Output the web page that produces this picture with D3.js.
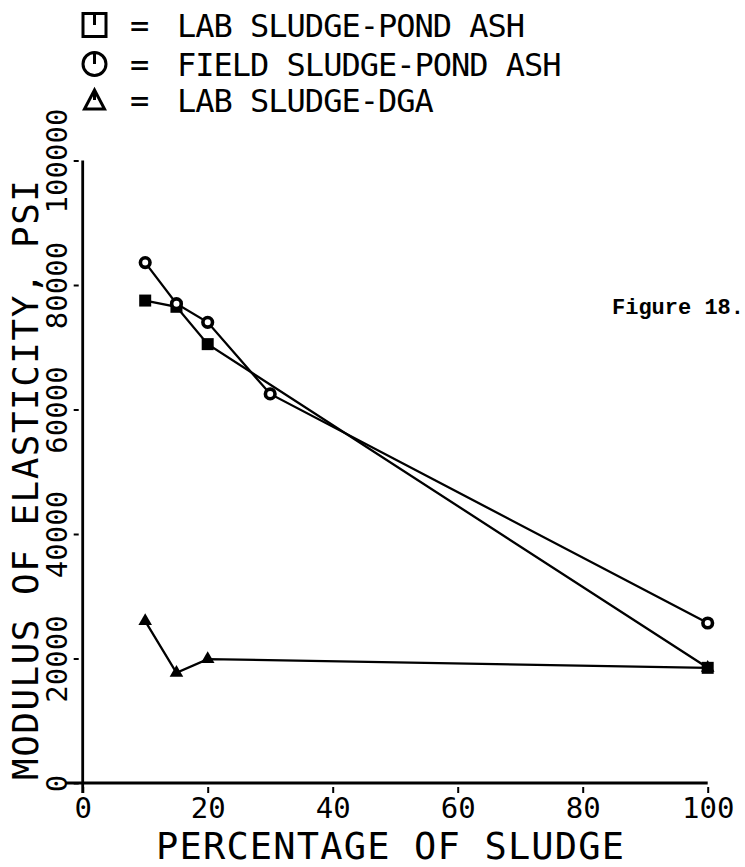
<!DOCTYPE html>
<html>
<body style="margin:0;background:#fff;">
<style>
body {
  font: 12px sans-serif;
}
.plot text {
  font-family: "DejaVu Sans Mono", monospace;
  fill: #000;
}
</style>
<div class="container"></div>
<script src="https://d3js.org/d3.v7.min.js"></script>

<script>

      // values
      var labPondX = [10, 15, 20, 100],
          labPondY = [77500, 76500, 70500, 18500];

      var fieldPondX = [10, 15, 20, 30, 100],
          fieldPondY = [83600, 77000, 74000, 62500, 25700];

      var labDgaX = [10, 15, 20, 100],
          labDgaY = [26000, 17700, 19900, 18500];

      var xTicks = [0, 20, 40, 60, 80, 100],
          yTicks = [0, 20000, 40000, 60000, 80000, 100000];

      var legendNames = ["LAB SLUDGE-POND ASH", "FIELD SLUDGE-POND ASH", "LAB SLUDGE-DGA"];

      var width = 745,
          height = 867;

      var svg = d3.select(".container")
          .append("svg")
          .attr("class", "plot")
          .attr("width", width)
          .attr("height", height);

      var x = d3.scaleLinear().domain([0, 100]).range([82.7, 707.7]);
      var y = d3.scaleLinear().domain([0, 100000]).range([783, 160.5]);

      // axes lines
      svg.append("line")
          .attr("x1", 66).attr("x2", x(100))
          .attr("y1", y(0)).attr("y2", y(0))
          .attr("stroke", "#000").attr("stroke-width", 2.8);

      svg.append("line")
          .attr("x1", x(0)).attr("x2", x(0))
          .attr("y1", y(100000)).attr("y2", y(0) + 10)
          .attr("stroke", "#000").attr("stroke-width", 2.8);

      var xAxis = svg.append("g")
          .attr("transform", "translate(0," + y(0) + ")")
          .call(d3.axisBottom(x).tickValues(xTicks).tickSize(10).tickPadding(5).tickFormat(d3.format("d")));

      xAxis.select(".domain").remove();
      xAxis.selectAll(".tick line").attr("y1", 4).attr("stroke-width", 2);
      xAxis.selectAll(".tick text")
          .attr("font-size", 29)
          .attr("font-family", "DejaVu Sans Mono")
          .attr("dy", "0.7em");

      var yAxis = svg.append("g")
          .attr("transform", "translate(" + x(0) + ",0)")
          .call(d3.axisLeft(y).tickValues(yTicks).tickSize(9).tickFormat(d3.format("d")));

      yAxis.select(".domain").remove();
      yAxis.selectAll(".tick line").attr("x1", -4).attr("stroke-width", 2);
      yAxis.selectAll(".tick text")
          .attr("font-size", 29)
          .attr("font-family", "DejaVu Sans Mono")
          .attr("text-anchor", "middle")
          .attr("x", null)
          .attr("dy", null)
          .attr("transform", "translate(-16,0) rotate(-90)");

      // axis titles
      svg.append("text")
          .attr("x", 390)
          .attr("y", 859)
          .attr("text-anchor", "middle")
          .attr("font-size", 37)
          .attr("textLength", 468)
          .attr("lengthAdjust", "spacing")
          .text("PERCENTAGE OF SLUDGE");

      svg.append("text")
          .attr("transform", "translate(38,480) rotate(-90)")
          .attr("text-anchor", "middle")
          .attr("font-size", 36)
          .attr("textLength", 600)
          .attr("lengthAdjust", "spacing")
          .text("MODULUS OF ELASTICITY, PSI");

      svg.append("text")
          .attr("x", 612)
          .attr("y", 314)
          .style("font-family", "'Liberation Mono', monospace")
          .style("font-weight", "bold")
          .attr("font-size", 22)
          .text("Figure 18.");

      // series lines
      var line = d3.line()
          .x(function(d) { return x(d[0]); })
          .y(function(d) { return y(d[1]); });

      function pairs(xs, ys) {
        return xs.map(function(v, i) { return [v, ys[i]]; });
      }

      var series = [pairs(labPondX, labPondY), pairs(fieldPondX, fieldPondY), pairs(labDgaX, labDgaY)];

      svg.selectAll(".series")
          .data(series)
          .enter()
          .append("path")
          .attr("class", "series")
          .attr("d", line)
          .attr("fill", "none")
          .attr("stroke", "#000")
          .attr("stroke-width", 2.3);

      // markers
      svg.selectAll(".tri")
          .data(series[2])
          .enter()
          .append("path")
          .attr("class", "tri")
          .attr("d", d3.symbol().type(d3.symbolTriangle).size(80))
          .attr("transform", function(d) { return "translate(" + x(d[0]) + "," + y(d[1]) + ")"; })
          .attr("fill", "#000");

      svg.selectAll(".sq")
          .data(series[0])
          .enter()
          .append("rect")
          .attr("class", "sq")
          .attr("x", function(d) { return x(d[0]) - 6; })
          .attr("y", function(d) { return y(d[1]) - 6; })
          .attr("width", 12)
          .attr("height", 12)
          .attr("fill", "#000");

      svg.selectAll(".circ")
          .data(series[1])
          .enter()
          .append("circle")
          .attr("class", "circ")
          .attr("cx", function(d) { return x(d[0]); })
          .attr("cy", function(d) { return y(d[1]); })
          .attr("r", 4.8)
          .attr("fill", "#fff")
          .attr("stroke", "#000")
          .attr("stroke-width", 3.6);

      // legend
      var legendY = [37, 76, 112];

      var legend = svg.selectAll(".legend")
          .data(legendNames)
          .enter()
          .append("g")
          .attr("class", "legend")
          .attr("transform", function(d, i) { return "translate(0," + legendY[i] + ")"; });

      legend.append("text")
          .attr("x", 130)
          .attr("font-size", 32)
          .text("=");

      legend.append("text")
          .attr("x", 177)
          .attr("font-size", 32)
          .attr("letter-spacing", -1)
          .text(function(d) { return d; });

      var sym = legend.append("g")
          .attr("transform", "translate(94.5,-12)")
          .attr("fill", "none")
          .attr("stroke", "#000")
          .attr("stroke-width", 3);

      sym.filter(function(d, i) { return i === 0; })
          .append("rect")
          .attr("x", -11.5).attr("y", -11.5).attr("width", 23).attr("height", 23);

      sym.filter(function(d, i) { return i === 1; })
          .append("circle")
          .attr("r", 11.5);

      sym.filter(function(d, i) { return i === 2; })
          .append("path")
          .attr("d", "M0,-10 L10,9 L-10,9 Z");

      sym.append("line")
          .attr("x1", 0).attr("x2", 0)
          .attr("y1", function(d, i) { return i === 2 ? -8 : -11; })
          .attr("y2", 0);

</script>
</body>
</html>
